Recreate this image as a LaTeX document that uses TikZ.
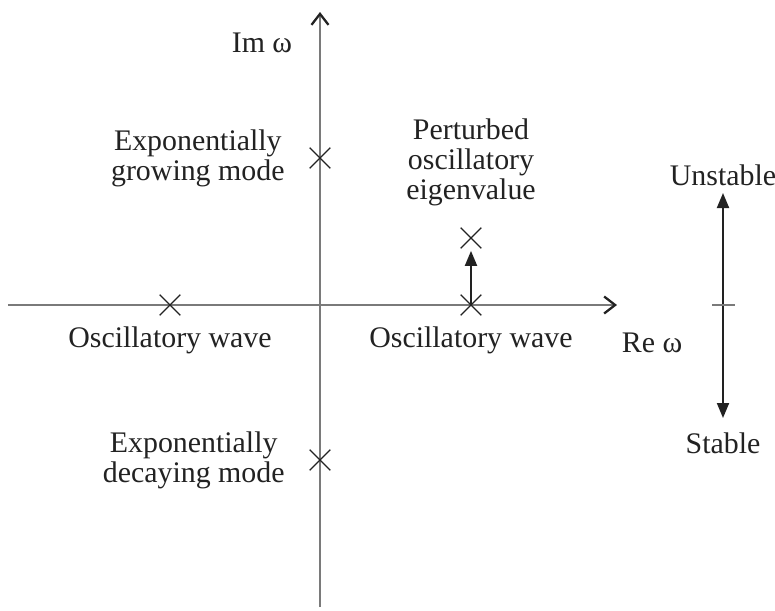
\documentclass[tikz,border=0pt]{standalone}
\usepackage{fontspec}
\setmainfont{Liberation Serif}
\usetikzlibrary{positioning,shapes.misc,arrows.meta}
\definecolor{ink}{HTML}{222222}
\definecolor{axgray}{HTML}{7A7A7A}
\tikzset{
  lbl/.style={align=center,text=ink,font=\fontsize{17}{17}\selectfont,inner sep=1pt},
  xmark/.style={cross out,draw=ink,minimum size=3.9mm,inner sep=0pt,line width=0.7pt},
  ax/.style={draw=axgray,line width=0.6pt,
    -{Straight Barb[length=2.2mm,width=3.4mm,line width=1.3pt,color=ink]}},
  fl/.style={draw=ink,line width=1.1pt,-{Triangle[length=3mm,width=2.4mm]}},
  fl2/.style={draw=ink,line width=1.1pt,
    {Triangle[length=3mm,width=2.4mm]}-{Triangle[length=3mm,width=2.4mm]}},
}

\begin{document}
\begin{tikzpicture}
  \useasboundingbox (-6.4,-6.1) rectangle (9.1,6.1);
  % axes
  \coordinate (xl) at (-6.24,0);
  \coordinate (xr) at (5.94,0);
  \coordinate (yb) at (0,-6.04);
  \coordinate (yt) at (0,5.86);
  \draw[ax] (xl) -- (xr);
  \draw[ax] (yb) -- (yt);
  \node[lbl] (im) at (-1.16,5.24) {Im ω};
  \node[lbl] (re) at (6.64,-0.76) {Re ω};
  % eigenvalues
  \node[xmark] (grow) at (0,2.94) {};
  \node[xmark] (decay) at (0,-3.1) {};
  \node[xmark] (oscL) at (-3.0,0) {};
  \node[xmark] (oscR) at (3.02,0) {};
  \node[xmark] (pert) at (3.02,1.34) {};
  \draw[fl,shorten >=0.5mm] (oscR.center) -- (pert.south);
  \node[lbl,left=4.6mm of grow] (growtxt) {Exponentially\\growing mode};
  \node[lbl,left=4.6mm of decay] (decaytxt) {Exponentially\\decaying mode};
  \node[lbl,below=1.8mm of oscL] (oscLtxt) {Oscillatory wave};
  \node[lbl,below=1.8mm of oscR] (oscRtxt) {Oscillatory wave};
  \node[lbl,above=4mm of pert] (perttxt) {Perturbed\\oscillatory\\eigenvalue};
  % stability
  \coordinate (up) at (8.06,2.24);
  \coordinate (dn) at (8.06,-2.26);
  \coordinate (tk) at (8.06,0);
  \draw[fl2] (dn) -- (up);
  \draw[axgray,line width=0.6pt] ([xshift=-2.2mm]tk) -- ([xshift=2.4mm]tk);
  \node[lbl,above=1mm of up] (unst) {Unstable};
  \node[lbl,below=2.5mm of dn] (stab) {Stable};
\end{tikzpicture}
\end{document}
